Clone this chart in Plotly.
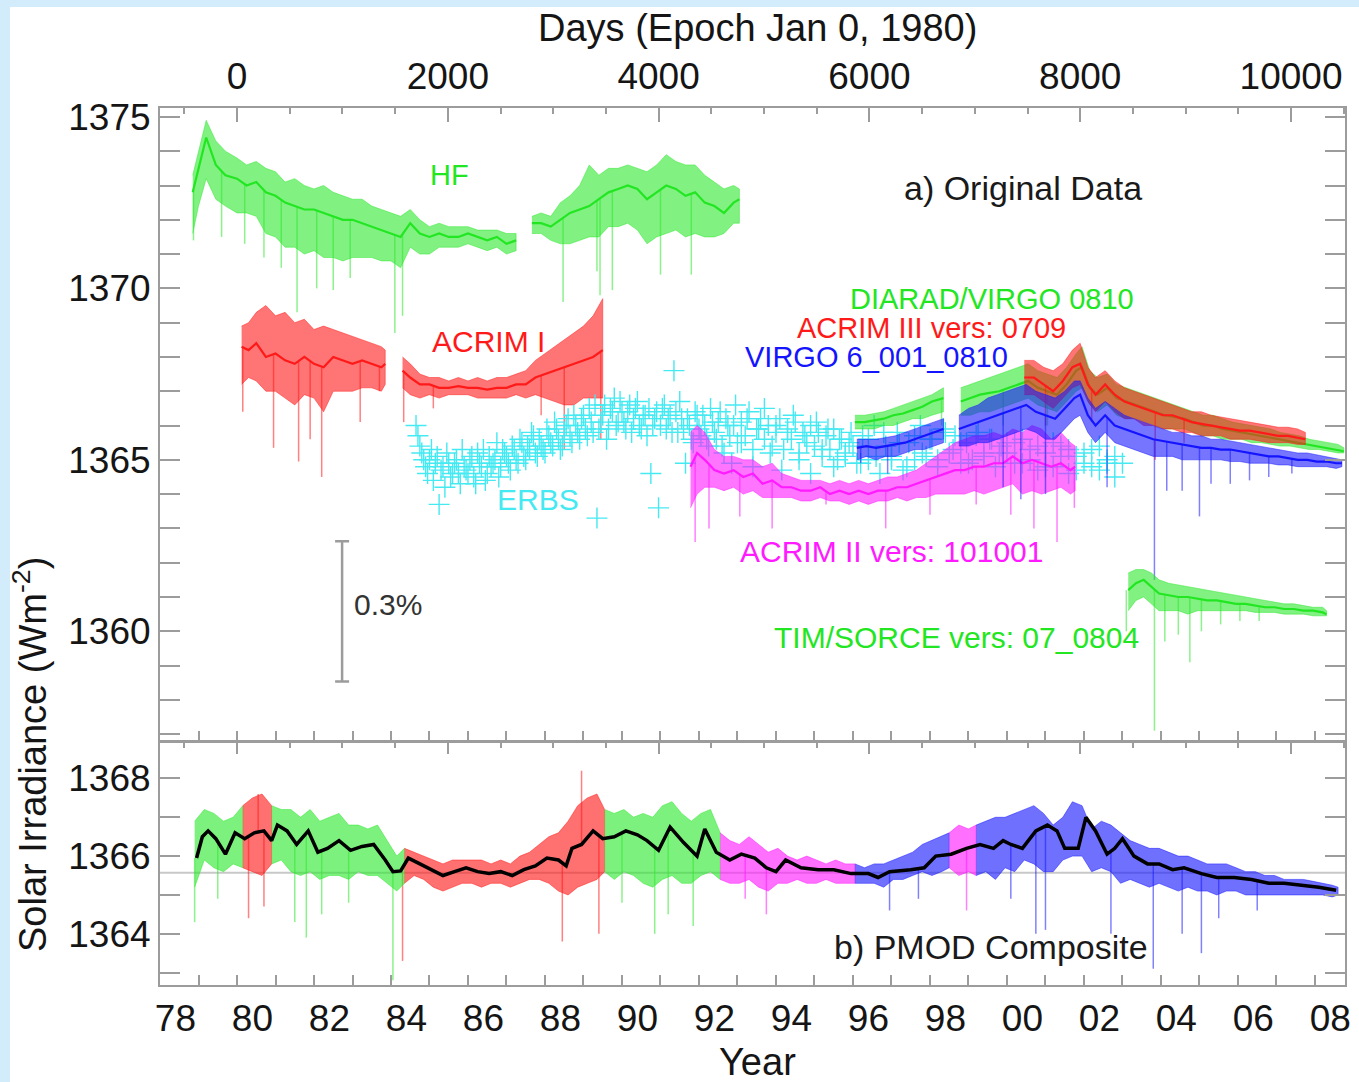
import numpy as np
import plotly.graph_objects as go

# ---------------- data ----------------
# HF (Nimbus 7), top panel.  None marks the data gap
hf_year = [1978.85, 1979.0, 1979.2, 1979.45, 1979.7, 1980.0, 1980.25, 1980.5, 1980.75, 1981.0, 1981.25, 1981.5,
           1981.75, 1982.0, 1982.25, 1982.5, 1982.75, 1983.0, 1983.25, 1983.5, 1983.75, 1984.0, 1984.25, 1984.5,
           1984.75, 1985.0, 1985.25, 1985.5, 1985.75, 1986.0, 1986.25, 1986.5, 1986.75, 1987.0, 1987.25, None,
           1987.66, 1987.9, 1988.15, 1988.4, 1988.65, 1988.9, 1989.15, 1989.4, 1989.65, 1989.9, 1990.15, 1990.4,
           1990.65, 1990.9, 1991.15, 1991.4, 1991.65, 1991.9, 1992.15, 1992.4, 1992.65, 1992.9, 1993.05]
hf_mid = [1372.8, 1373.5, 1374.4, 1373.6, 1373.3, 1373.2, 1373.0, 1373.1, 1372.8, 1372.7, 1372.5, 1372.4,
          1372.3, 1372.3, 1372.2, 1372.1, 1372.0, 1372.0, 1371.9, 1371.8, 1371.7, 1371.6, 1371.5, 1371.9,
          1371.6, 1371.5, 1371.6, 1371.5, 1371.5, 1371.6, 1371.5, 1371.4, 1371.5, 1371.3, 1371.4, None,
          1371.9, 1371.9, 1371.8, 1372.0, 1372.2, 1372.3, 1372.4, 1372.6, 1372.8, 1372.9, 1373.0, 1372.9,
          1372.6, 1372.8, 1373.0, 1372.9, 1372.7, 1372.8, 1372.5, 1372.4, 1372.2, 1372.5, 1372.6]
hf_lo = [1371.6, 1372.4, 1373.2, 1372.6, 1372.4, 1372.2, 1372.2, 1372.1, 1371.6, 1371.5, 1371.2, 1371.2,
         1371.0, 1371.1, 1370.9, 1370.9, 1370.8, 1370.9, 1370.9, 1370.9, 1370.8, 1370.8, 1370.6, 1371.2,
         1371.0, 1371.0, 1371.2, 1371.2, 1371.2, 1371.3, 1371.2, 1371.1, 1371.2, 1371.0, 1371.1, None,
         1371.6, 1371.6, 1371.4, 1371.3, 1371.3, 1371.4, 1371.5, 1371.5, 1371.8, 1371.8, 1371.9, 1371.7,
         1371.3, 1371.5, 1371.6, 1371.7, 1371.5, 1371.6, 1371.5, 1371.5, 1371.6, 1371.9, 1371.9]
hf_hi = [1373.3, 1374.0, 1374.9, 1374.3, 1374.0, 1373.8, 1373.6, 1373.7, 1373.5, 1373.4, 1373.1, 1373.2,
         1373.0, 1372.9, 1373.0, 1372.8, 1372.7, 1372.6, 1372.6, 1372.4, 1372.3, 1372.2, 1372.1, 1372.3,
         1372.0, 1371.8, 1371.9, 1371.8, 1371.8, 1371.8, 1371.7, 1371.7, 1371.7, 1371.6, 1371.6, None,
         1372.1, 1372.2, 1372.1, 1372.5, 1372.7, 1373.0, 1373.6, 1373.3, 1373.5, 1373.5, 1373.6, 1373.5,
         1373.4, 1373.6, 1373.9, 1373.7, 1373.6, 1373.6, 1373.3, 1373.1, 1372.9, 1373.0, 1372.9]
hf_dip_year = [1978.87, 1979.6, 1980.2, 1980.7, 1981.15, 1981.56, 1982.07, 1982.5, 1982.94, 1984.1, 1984.3,
               1988.47, 1989.35, 1989.43, 1989.75, 1991.0, 1991.8]
hf_dip_val = [1371.4, 1371.5, 1371.3, 1370.9, 1370.6, 1369.3, 1370.0, 1369.95, 1370.3, 1368.7, 1369.2,
              1369.6, 1370.5, 1369.8, 1369.95, 1370.4, 1370.4]

# ACRIM I
acrim1_year = [1980.12, 1980.3, 1980.5, 1980.75, 1981.0, 1981.25, 1981.5, 1981.75, 1982.0, 1982.25, 1982.5,
               1982.75, 1983.0, 1983.25, 1983.5, 1983.75, 1983.85, None,
               1984.3, 1984.5, 1984.75, 1985.0, 1985.25, 1985.5, 1985.75, 1986.0, 1986.25, 1986.5, 1986.75,
               1987.0, 1987.25, 1987.5, 1987.75, 1988.0, 1988.25, 1988.5, 1988.75, 1989.0, 1989.25, 1989.5]
acrim1_mid = [1368.3, 1368.2, 1368.4, 1368.0, 1368.1, 1367.9, 1367.8, 1368.0, 1367.8, 1367.7, 1368.0,
              1367.9, 1367.8, 1367.9, 1367.8, 1367.7, 1367.8, None,
              1367.6, 1367.4, 1367.2, 1367.2, 1367.1, 1367.1, 1367.15, 1367.1, 1367.1, 1367.05, 1367.1,
              1367.1, 1367.2, 1367.2, 1367.4, 1367.5, 1367.6, 1367.7, 1367.8, 1367.9, 1368.0, 1368.2]
acrim1_lo = [1367.2, 1367.4, 1367.3, 1367.0, 1367.0, 1366.8, 1366.6, 1366.9, 1366.8, 1366.4, 1367.0,
             1367.0, 1367.0, 1367.1, 1367.1, 1367.0, 1367.2, None,
             1367.1, 1366.9, 1366.8, 1366.9, 1366.8, 1366.9, 1366.9, 1366.9, 1366.8, 1366.8, 1366.8,
             1366.8, 1366.9, 1366.8, 1366.9, 1366.8, 1366.7, 1366.6, 1366.6, 1366.8, 1366.8, 1366.8]
acrim1_hi = [1368.9, 1369.0, 1369.3, 1369.5, 1369.2, 1369.3, 1369.0, 1369.1, 1368.8, 1368.9, 1368.8,
             1368.7, 1368.6, 1368.5, 1368.4, 1368.3, 1368.2, None,
             1368.0, 1367.8, 1367.5, 1367.4, 1367.4, 1367.3, 1367.4, 1367.3, 1367.4, 1367.3, 1367.4,
             1367.4, 1367.5, 1367.6, 1367.9, 1368.1, 1368.3, 1368.5, 1368.7, 1368.9, 1369.2, 1369.7]
acrim1_dip_year = [1980.15, 1980.95, 1981.6, 1981.9, 1982.2, 1983.2, 1983.7, 1984.33, 1985.1, 1987.9, 1988.5, 1989.45]
acrim1_dip_val = [1366.4, 1365.35, 1364.95, 1365.6, 1364.5, 1366.1, 1367.0, 1366.1, 1366.5, 1366.3, 1365.3, 1365.6]

# ERBS (crosses)
erbs_year = [1984.65, 1984.75, 1984.85, 1984.95, 1985.05, 1985.15, 1985.25, 1985.35, 1985.45, 1985.55,
             1985.65, 1985.75, 1985.85, 1985.95, 1986.05, 1986.15, 1986.25, 1986.35, 1986.45, 1986.55,
             1986.65, 1986.75, 1986.85, 1986.95, 1987.05, 1987.15, 1987.25, 1987.35, 1987.45, 1987.55,
             1987.65, 1987.75, 1987.85, 1987.95, 1988.05, 1988.15, 1988.25, 1988.35, 1988.45, 1988.55,
             1988.65, 1988.75, 1988.85, 1988.95, 1989.05, 1989.15, 1989.25, 1989.35, 1989.45, 1989.55,
             1989.65, 1989.75, 1989.85, 1989.95, 1990.05, 1990.15, 1990.25, 1990.35, 1990.45, 1990.55,
             1990.65, 1990.75, 1990.85, 1990.95, 1991.05, 1991.15, 1991.25, 1991.35, 1991.45, 1991.55,
             1991.65, 1991.75, 1991.85, 1991.95, 1992.05, 1992.15, 1992.25, 1992.35, 1992.45, 1992.55,
             1992.65, 1992.75, 1992.85, 1992.95, 1993.1, 1993.25, 1993.4, 1993.55, 1993.7, 1993.85,
             1994.0, 1994.15, 1994.3, 1994.45, 1994.6, 1994.75, 1994.9, 1995.05, 1995.2, 1995.35,
             1995.5, 1995.65, 1995.8, 1995.95, 1996.1, 1996.25, 1996.4, 1996.55, 1996.7, 1996.85,
             1997.0, 1997.15, 1997.3, 1997.45, 1997.6, 1997.75, 1997.9, 1998.05, 1998.2, 1998.35,
             1998.5, 1998.65, 1998.8, 1998.95, 1999.1, 1999.25, 1999.4, 1999.55, 1999.7, 1999.85,
             2000.0, 2000.2, 2000.4, 2000.6, 2000.8, 2001.0, 2001.2, 2001.4, 2001.6, 2001.8,
             2002.0, 2002.2, 2002.4, 2002.6, 2002.8, 2003.0,
             1984.7, 1984.8, 1984.9, 1985.0, 1985.1, 1985.2, 1985.3, 1985.4, 1985.5, 1985.6, 1985.7, 1985.8, 1985.9,
             1986.0, 1986.1, 1986.2, 1986.3, 1986.4, 1986.5, 1986.6, 1986.7, 1986.8, 1986.9,
             1987.0, 1987.1, 1987.2, 1987.3, 1987.4, 1987.5, 1987.6, 1987.7, 1987.8, 1987.9,
             1988.0, 1988.1, 1988.2, 1988.3, 1988.4, 1988.5, 1988.6, 1988.7, 1988.8, 1988.9,
             1989.0, 1989.1, 1989.2, 1989.3, 1989.4, 1989.5, 1989.6, 1989.7, 1989.8, 1989.9,
             1990.0, 1990.1, 1990.2, 1990.3, 1990.4, 1990.5, 1990.6, 1990.7, 1990.8, 1990.9,
             1991.0, 1991.1, 1991.2, 1991.3, 1991.4, 1991.5, 1991.6, 1991.7, 1991.8, 1991.9,
             1992.0, 1992.1, 1992.2, 1992.3, 1992.4, 1992.5, 1992.6, 1992.7, 1992.8, 1992.9,
             1993.0, 1993.1, 1993.2, 1993.3, 1993.4, 1993.5, 1993.6, 1993.7, 1993.8, 1993.9,
             1994.0, 1994.1, 1994.2, 1994.3, 1994.4, 1994.5, 1994.6, 1994.7, 1994.8, 1994.9,
             1995.0, 1995.1, 1995.2, 1995.3, 1995.4, 1995.5, 1995.6, 1995.7, 1995.8, 1995.9,
             1996.0, 1996.2, 1996.4, 1996.6, 1996.8, 1997.0, 1997.2, 1997.4, 1997.6, 1997.8,
             1998.0, 1998.2, 1998.4, 1998.6, 1998.8, 1999.0, 1999.2, 1999.4, 1999.6, 1999.8,
             2000.0, 2000.2, 2000.4, 2000.6, 2000.8, 2001.0, 2001.2, 2001.4, 2001.6, 2001.8,
             2002.0, 2002.2, 2002.4, 2002.6, 2002.8]
erbs_val = [1366.0, 1365.4, 1365.0, 1364.6, 1365.3, 1364.9, 1363.7, 1364.8, 1365.2, 1364.5,
            1364.9, 1364.6, 1365.3, 1364.7, 1365.0, 1364.5, 1365.2, 1364.8, 1364.4, 1365.1,
            1364.9, 1365.5, 1364.8, 1365.2, 1364.9, 1365.4, 1365.0, 1365.6, 1365.1, 1365.4,
            1365.8, 1365.2, 1365.6, 1365.3, 1365.9, 1365.5, 1366.1, 1365.6, 1365.4, 1366.0,
            1365.7, 1366.3, 1365.8, 1366.2, 1365.9, 1366.5, 1365.8, 1363.3, 1366.1, 1366.6,
            1365.9, 1366.4, 1366.0, 1366.7, 1366.1, 1366.4, 1365.8, 1366.5, 1366.0, 1366.3,
            1365.7, 1364.6, 1366.2, 1363.6, 1366.5, 1365.9, 1366.3, 1367.6, 1365.8, 1366.2,
            1364.9, 1366.0, 1365.5, 1366.3, 1365.7, 1366.0, 1365.4, 1366.1, 1365.6, 1366.4,
            1365.2, 1366.0, 1364.9, 1366.6, 1365.5, 1366.2, 1364.8, 1365.9, 1366.5, 1365.2,
            1366.0, 1364.7, 1365.8, 1366.3, 1365.0, 1365.7, 1364.6, 1366.1, 1365.3, 1365.9,
            1364.8, 1365.6, 1365.1, 1365.8, 1364.9, 1365.7, 1365.0, 1366.0, 1364.6, 1365.4,
            1365.1, 1365.8, 1364.7, 1365.5, 1365.0, 1366.0, 1365.1, 1365.6, 1364.8, 1365.9,
            1365.2, 1365.7, 1364.9, 1365.5, 1365.0, 1365.8, 1365.2, 1365.6, 1364.8, 1365.4,
            1365.2, 1365.5, 1364.9, 1365.3, 1364.7, 1365.2, 1364.8, 1365.4, 1364.6, 1365.1,
            1364.9, 1365.3, 1364.7, 1365.0, 1364.5, 1364.9,
            1365.7, 1365.2, 1364.8, 1365.0, 1364.4, 1365.1, 1364.7, 1364.2, 1364.9, 1364.6, 1365.0, 1364.3, 1364.8,
            1364.6, 1365.1, 1364.3, 1364.9, 1365.3, 1364.6, 1364.8, 1365.0, 1364.5, 1365.3,
            1365.1, 1364.7, 1365.3, 1364.9, 1365.5, 1365.0, 1365.3, 1365.7, 1365.1, 1365.4,
            1365.2, 1365.7, 1365.4, 1365.9, 1365.3, 1365.8, 1366.2, 1365.5, 1366.0, 1365.6,
            1366.3, 1365.7, 1366.1, 1366.6, 1365.9, 1366.3, 1365.6, 1366.5, 1366.8, 1366.1,
            1366.4, 1365.9, 1366.6, 1366.2, 1366.7, 1365.9, 1366.3, 1366.5, 1366.0, 1366.4,
            1366.0, 1366.6, 1366.2, 1365.8, 1366.4, 1366.7, 1365.9, 1366.2, 1365.6, 1366.4,
            1365.9, 1366.3, 1365.6, 1366.5, 1365.8, 1366.1, 1365.4, 1366.2, 1365.7, 1366.0,
            1365.5, 1366.1, 1365.7, 1366.4, 1365.3, 1365.9, 1366.2, 1365.6, 1366.0, 1365.4,
            1365.8, 1366.2, 1365.3, 1365.9, 1365.6, 1366.1, 1365.2, 1365.8, 1365.5, 1366.0,
            1365.4, 1365.8, 1365.1, 1365.7, 1365.3, 1365.9, 1365.0, 1365.6, 1365.2, 1365.5,
            1365.4, 1364.9, 1365.6, 1365.1, 1365.8, 1365.0, 1365.5, 1364.8, 1365.7, 1365.2,
            1365.6, 1365.0, 1365.8, 1365.3, 1365.5, 1364.9, 1365.7, 1365.1, 1365.6, 1365.2,
            1365.5, 1364.9, 1365.6, 1365.0, 1365.4, 1364.8, 1365.5, 1365.1, 1365.3, 1364.7,
            1365.2, 1364.8, 1365.4, 1364.9, 1365.1]

# ACRIM II
acrim2_year = [1991.78, 1991.95, 1992.15, 1992.4, 1992.65, 1992.9, 1993.15, 1993.4, 1993.65, 1993.9, 1994.15,
               1994.4, 1994.65, 1994.9, 1995.15, 1995.4, 1995.65, 1995.9, 1996.15, 1996.4, 1996.65, 1996.9,
               1997.15, 1997.4, 1997.65, 1997.9, 1998.15, 1998.4, 1998.65, 1998.9, 1999.15, 1999.4, 1999.65,
               1999.9, 2000.15, 2000.4, 2000.65, 2000.9, 2001.15, 2001.4, 2001.65, 2001.77]
acrim2_mid = [1364.8, 1365.2, 1365.0, 1364.7, 1364.6, 1364.7, 1364.5, 1364.6, 1364.3, 1364.4, 1364.2,
              1364.2, 1364.1, 1364.1, 1364.2, 1364.0, 1364.1, 1364.0, 1364.1, 1364.0, 1364.1, 1364.1,
              1364.2, 1364.2, 1364.3, 1364.4, 1364.5, 1364.6, 1364.7, 1364.7, 1364.8, 1364.8, 1364.9,
              1364.9, 1365.1, 1364.9, 1365.0, 1364.9, 1364.8, 1364.9, 1364.7, 1364.8]
acrim2_lo = [1363.6, 1364.0, 1364.2, 1364.2, 1364.1, 1364.2, 1364.0, 1364.1, 1363.9, 1363.9, 1363.9,
             1363.9, 1363.8, 1363.8, 1363.9, 1363.8, 1363.8, 1363.7, 1363.8, 1363.7, 1363.8, 1363.8,
             1363.9, 1363.8, 1363.9, 1363.9, 1364.0, 1364.0, 1364.0, 1364.0, 1364.1, 1364.0, 1364.1,
             1364.2, 1364.3, 1364.0, 1364.1, 1364.0, 1364.1, 1364.2, 1364.0, 1364.1]
acrim2_hi = [1365.8, 1366.0, 1365.8, 1365.3, 1365.1, 1365.1, 1365.0, 1365.0, 1364.8, 1364.9, 1364.6,
             1364.5, 1364.4, 1364.4, 1364.4, 1364.3, 1364.4, 1364.3, 1364.4, 1364.3, 1364.4, 1364.5,
             1364.5, 1364.6, 1364.7, 1364.9, 1365.1, 1365.3, 1365.5, 1365.6, 1365.7, 1365.7, 1365.8,
             1365.7, 1365.9, 1365.8, 1366.0, 1365.9, 1365.6, 1365.8, 1365.5, 1365.4]
acrim2_dip_year = [1991.9, 1992.26, 1993.06, 1993.9, 1995.3, 1996.85, 1998.0, 1999.2, 2000.1, 2000.7, 2001.3, 2001.75]
acrim2_dip_val = [1362.6, 1363.0, 1363.35, 1363.0, 1363.7, 1363.0, 1363.4, 1363.7, 1363.4, 1363.0, 1362.6, 1363.6]

# DIARAD/VIRGO
diarad_year = [1996.05, 1996.3, 1996.55, 1996.8, 1997.05, 1997.3, 1997.55, 1997.8, 1998.05, 1998.35, None,
               1998.8, 1999.05, 1999.3, 1999.55, 1999.8, 2000.05, 2000.3, 2000.55, 2000.8, 2001.05, 2001.3,
               2001.55, 2001.8, 2001.95, 2002.15, 2002.35, 2002.6, 2002.85, 2003.1, 2003.35, 2003.6, 2003.85,
               2004.1, 2004.35, 2004.6, 2004.85, 2005.1, 2005.35, 2005.6, 2005.85, 2006.1, 2006.35, 2006.6,
               2006.85, 2007.1, 2007.35, 2007.6, 2007.85, 2008.1, 2008.35, 2008.6, 2008.75]
diarad_mid = [1366.1, 1366.1, 1366.15, 1366.2, 1366.3, 1366.35, 1366.45, 1366.55, 1366.7, 1366.8, None,
              1366.7, 1366.8, 1366.9, 1366.95, 1367.0, 1367.1, 1367.2, 1367.3, 1367.1, 1367.0, 1366.9,
              1367.2, 1367.6, 1367.7, 1367.1, 1366.9, 1367.1, 1366.8, 1366.7, 1366.6, 1366.5, 1366.4,
              1366.3, 1366.25, 1366.2, 1366.1, 1366.0, 1366.0, 1365.9, 1365.85, 1365.8, 1365.75, 1365.7,
              1365.65, 1365.6, 1365.55, 1365.5, 1365.45, 1365.4, 1365.35, 1365.3, 1365.25]
diarad_lo = [1365.9, 1365.9, 1365.9, 1366.0, 1366.0, 1366.1, 1366.2, 1366.2, 1366.3, 1366.4, None,
             1366.3, 1366.3, 1366.4, 1366.4, 1366.5, 1366.6, 1366.7, 1366.8, 1366.6, 1366.5, 1366.4,
             1366.7, 1367.0, 1367.1, 1366.6, 1366.4, 1366.6, 1366.3, 1366.2, 1366.2, 1366.1, 1366.0,
             1365.9, 1365.9, 1365.9, 1365.8, 1365.7, 1365.7, 1365.6, 1365.6, 1365.6, 1365.5, 1365.5,
             1365.45, 1365.4, 1365.4, 1365.35, 1365.3, 1365.3, 1365.25, 1365.2, 1365.2]
diarad_hi = [1366.3, 1366.3, 1366.35, 1366.4, 1366.5, 1366.6, 1366.7, 1366.8, 1366.9, 1367.1, None,
             1367.1, 1367.2, 1367.3, 1367.4, 1367.5, 1367.6, 1367.7, 1367.8, 1367.6, 1367.5, 1367.4,
             1367.7, 1368.1, 1368.3, 1367.6, 1367.4, 1367.5, 1367.2, 1367.1, 1367.0, 1366.9, 1366.8,
             1366.7, 1366.6, 1366.5, 1366.4, 1366.3, 1366.3, 1366.2, 1366.1, 1366.05, 1366.0, 1365.95,
             1365.9, 1365.8, 1365.75, 1365.7, 1365.6, 1365.55, 1365.5, 1365.45, 1365.35]
diarad_dip_year = [1998.3, 1999.9, 2001.05]
diarad_dip_val = [1366.0, 1366.0, 1366.0]

# ACRIM III
acrim3_year = [2000.45, 2000.7, 2000.95, 2001.2, 2001.45, 2001.7, 2001.9, 2002.1, 2002.3, 2002.55, 2002.8,
               2003.05, 2003.3, 2003.55, 2003.8, 2004.05, 2004.3, 2004.55, 2004.8, 2005.05, 2005.3, 2005.55,
               2005.8, 2006.05, 2006.3, 2006.55, 2006.8, 2007.05, 2007.3, 2007.55, 2007.75]
acrim3_mid = [1367.4, 1367.4, 1367.2, 1367.0, 1367.3, 1367.7, 1367.8, 1367.2, 1366.9, 1367.2, 1366.9,
              1366.7, 1366.6, 1366.5, 1366.4, 1366.3, 1366.3, 1366.2, 1366.1, 1366.05, 1366.0, 1365.95,
              1365.9, 1365.85, 1365.85, 1365.8, 1365.75, 1365.7, 1365.7, 1365.65, 1365.6]
acrim3_lo = [1366.9, 1366.9, 1366.7, 1366.5, 1366.8, 1367.1, 1367.2, 1366.7, 1366.4, 1366.7, 1366.4,
             1366.2, 1366.2, 1366.0, 1366.0, 1365.9, 1365.9, 1365.8, 1365.8, 1365.7, 1365.7, 1365.7,
             1365.6, 1365.6, 1365.6, 1365.55, 1365.5, 1365.5, 1365.5, 1365.45, 1365.45]
acrim3_hi = [1367.9, 1367.9, 1367.7, 1367.6, 1367.8, 1368.2, 1368.4, 1367.7, 1367.4, 1367.6, 1367.3,
             1367.1, 1367.0, 1366.9, 1366.8, 1366.7, 1366.6, 1366.5, 1366.4, 1366.4, 1366.3, 1366.25,
             1366.2, 1366.15, 1366.1, 1366.05, 1366.0, 1365.95, 1365.95, 1365.9, 1365.8]
acrim3_dip_year = [2001.0, 2002.2, 2003.85, 2004.6]
acrim3_dip_val = [1366.0, 1366.1, 1365.0, 1365.5]

# VIRGO 6_001_0810
virgo_year = [1996.1, 1996.35, 1996.6, 1996.85, 1997.1, 1997.35, 1997.6, 1997.85, 1998.1, 1998.35, None,
              1998.75, 1999.0, 1999.25, 1999.5, 1999.75, 2000.0, 2000.25, 2000.5, 2000.75, 2001.0, 2001.25,
              2001.5, 2001.75, 2001.9, 2002.1, 2002.3, 2002.55, 2002.8, 2003.05, 2003.3, 2003.55, 2003.8,
              2004.05, 2004.3, 2004.55, 2004.8, 2005.05, 2005.3, 2005.55, 2005.8, 2006.05, 2006.3, 2006.55,
              2006.8, 2007.05, 2007.3, 2007.55, 2007.8, 2008.05, 2008.3, 2008.55, 2008.7]
virgo_mid = [1365.35, 1365.4, 1365.35, 1365.4, 1365.45, 1365.5, 1365.6, 1365.7, 1365.8, 1365.9, None,
             1365.9, 1366.0, 1366.1, 1366.2, 1366.3, 1366.4, 1366.5, 1366.6, 1366.4, 1366.3, 1366.2,
             1366.5, 1366.8, 1366.9, 1366.3, 1366.0, 1366.3, 1366.0, 1365.9, 1365.8, 1365.7, 1365.6,
             1365.55, 1365.5, 1365.45, 1365.4, 1365.35, 1365.35, 1365.3, 1365.3, 1365.25, 1365.2, 1365.15,
             1365.1, 1365.1, 1365.05, 1365.0, 1365.0, 1364.95, 1364.95, 1364.9, 1364.9]
virgo_lo = [1365.0, 1365.1, 1365.0, 1365.1, 1365.1, 1365.2, 1365.3, 1365.3, 1365.4, 1365.5, None,
            1365.4, 1365.4, 1365.5, 1365.5, 1365.6, 1365.7, 1365.8, 1365.9, 1365.8, 1365.6, 1365.6,
            1365.9, 1366.2, 1366.3, 1365.8, 1365.5, 1365.8, 1365.5, 1365.4, 1365.3, 1365.2, 1365.1,
            1365.1, 1365.1, 1365.0, 1365.0, 1365.0, 1365.0, 1365.0, 1364.95, 1364.95, 1364.9, 1364.9,
            1364.9, 1364.85, 1364.85, 1364.8, 1364.8, 1364.8, 1364.8, 1364.75, 1364.8]
virgo_hi = [1365.6, 1365.6, 1365.6, 1365.65, 1365.7, 1365.8, 1365.9, 1366.0, 1366.1, 1366.2, None,
            1366.3, 1366.5, 1366.6, 1366.8, 1366.9, 1367.0, 1367.1, 1367.2, 1367.0, 1366.9, 1366.8,
            1367.0, 1367.3, 1367.3, 1366.8, 1366.5, 1366.7, 1366.5, 1366.3, 1366.2, 1366.1, 1366.0,
            1365.9, 1365.8, 1365.8, 1365.7, 1365.7, 1365.6, 1365.6, 1365.55, 1365.5, 1365.45, 1365.4,
            1365.35, 1365.3, 1365.25, 1365.2, 1365.2, 1365.15, 1365.1, 1365.05, 1365.0]
virgo_dip_year = [1996.2, 1996.9, 1999.9, 2000.36, 2001.0, 2002.6, 2003.83, 2004.15, 2004.55, 2005.0,
                  2005.3, 2005.8, 2006.3, 2006.8, 2007.4]
virgo_dip_val = [1364.9, 1364.6, 1364.2, 1363.85, 1364.0, 1364.2, 1361.5, 1364.1, 1364.1, 1363.35,
                 1364.3, 1364.3, 1364.4, 1364.5, 1364.6]

# TIM/SORCE
tim_year = [2003.15, 2003.35, 2003.55, 2003.75, 2003.95, 2004.2, 2004.45, 2004.7, 2004.95, 2005.2, 2005.45,
            2005.7, 2005.95, 2006.2, 2006.45, 2006.7, 2006.95, 2007.2, 2007.45, 2007.7, 2007.95, 2008.2, 2008.3]
tim_mid = [1361.2, 1361.4, 1361.5, 1361.3, 1361.1, 1361.05, 1361.0, 1361.0, 1360.95, 1360.9, 1360.9,
           1360.85, 1360.8, 1360.8, 1360.75, 1360.7, 1360.7, 1360.65, 1360.65, 1360.6, 1360.6, 1360.55, 1360.5]
tim_lo = [1360.6, 1360.9, 1361.0, 1360.8, 1360.6, 1360.6, 1360.6, 1360.5, 1360.6, 1360.6, 1360.6,
          1360.6, 1360.6, 1360.6, 1360.55, 1360.55, 1360.55, 1360.5, 1360.5, 1360.5, 1360.45, 1360.45, 1360.45]
tim_hi = [1361.7, 1361.8, 1361.8, 1361.7, 1361.5, 1361.4, 1361.35, 1361.3, 1361.25, 1361.2, 1361.15,
          1361.1, 1361.05, 1361.0, 1360.95, 1360.9, 1360.85, 1360.8, 1360.8, 1360.75, 1360.7, 1360.7, 1360.6]
tim_dip_year = [2003.1, 2003.83, 2004.1, 2004.45, 2004.75, 2005.05, 2005.55, 2006.05, 2006.55]
tim_dip_val = [1360.0, 1357.1, 1359.7, 1359.9, 1359.1, 1360.0, 1360.2, 1360.3, 1360.3]

# PMOD composite daily envelope, coloured by contributing instrument
comp_year = [1978.9, 1979.15, 1979.4, 1979.65, 1979.9, 1980.15, 1980.4, 1980.65, 1980.9, 1981.15, 1981.4,
             1981.65, 1981.9, 1982.15, 1982.4, 1982.65, 1982.9, 1983.15, 1983.4, 1983.65, 1983.9, 1984.15,
             1984.35, 1984.6, 1984.85, 1985.1, 1985.35, 1985.6, 1985.85, 1986.1, 1986.35, 1986.6, 1986.85,
             1987.1, 1987.35, 1987.6, 1987.85, 1988.1, 1988.35, 1988.6, 1988.85, 1989.1, 1989.35, 1989.55,
             1989.8, 1990.05, 1990.3, 1990.55, 1990.8, 1991.05, 1991.3, 1991.55, 1991.8, 1992.05, 1992.3,
             1992.55, 1992.8, 1993.05, 1993.3, 1993.55, 1993.8, 1994.05, 1994.3, 1994.55, 1994.8, 1995.05,
             1995.3, 1995.55, 1995.8, 1996.05, 1996.3, 1996.55, 1996.8, 1997.05, 1997.3, 1997.55, 1997.8,
             1998.05, 1998.3, 1998.5, 1998.75, 1999.0, 1999.2, 1999.45, 1999.7, 1999.95, 2000.2, 2000.45,
             2000.7, 2000.95, 2001.2, 2001.45, 2001.7, 2001.95, 2002.2, 2002.45, 2002.7, 2002.95, 2003.2,
             2003.45, 2003.7, 2003.95, 2004.2, 2004.45, 2004.7, 2004.95, 2005.2, 2005.45, 2005.7, 2005.95,
             2006.2, 2006.45, 2006.7, 2006.95, 2007.2, 2007.45, 2007.7, 2007.95, 2008.2, 2008.45, 2008.6]
comp_lo = [1365.2, 1365.9, 1365.7, 1365.6, 1365.8, 1365.7, 1365.6, 1365.5, 1365.8, 1365.9, 1365.6,
           1365.5, 1365.6, 1365.4, 1365.5, 1365.5, 1365.4, 1365.6, 1365.5, 1365.5, 1365.3, 1365.1,
           1365.3, 1365.5, 1365.4, 1365.2, 1365.1, 1365.2, 1365.3, 1365.3, 1365.2, 1365.3, 1365.3,
           1365.2, 1365.3, 1365.4, 1365.4, 1365.3, 1365.1, 1365.0, 1365.2, 1365.3, 1365.4, 1365.6,
           1365.4, 1365.6, 1365.5, 1365.3, 1365.2, 1365.4, 1365.5, 1365.3, 1365.3, 1365.5, 1365.6,
           1365.4, 1365.3, 1365.3, 1365.4, 1365.2, 1365.1, 1365.3, 1365.3, 1365.4, 1365.3, 1365.3,
           1365.4, 1365.3, 1365.3, 1365.3, 1365.3, 1365.3, 1365.2, 1365.4, 1365.4, 1365.5, 1365.6,
           1365.5, 1365.6, 1365.7, 1365.5, 1365.6, 1365.5, 1365.6, 1365.4, 1365.7, 1365.6, 1365.9,
           1365.8, 1365.6, 1365.6, 1365.9, 1366.0, 1366.0, 1365.6, 1365.7, 1365.6, 1365.3, 1365.4,
           1365.3, 1365.2, 1365.3, 1365.2, 1365.1, 1365.2, 1365.1, 1365.1, 1365.0, 1365.1, 1365.1,
           1365.0, 1365.0, 1365.0, 1365.0, 1365.0, 1365.0, 1365.0, 1365.0, 1365.0, 1364.95, 1365.0]
comp_hi = [1366.9, 1367.2, 1367.1, 1366.9, 1367.0, 1367.3, 1367.5, 1367.6, 1367.3, 1367.2, 1367.2,
           1367.0, 1367.2, 1366.9, 1367.0, 1367.1, 1366.8, 1366.8, 1366.7, 1366.8, 1366.4, 1366.0,
           1366.2, 1366.1, 1366.0, 1365.9, 1365.8, 1365.9, 1365.9, 1365.9, 1365.9, 1365.8, 1365.9,
           1365.8, 1366.0, 1366.1, 1366.3, 1366.5, 1366.6, 1366.9, 1367.3, 1367.5, 1367.6, 1367.2,
           1367.1, 1367.2, 1367.0, 1367.1, 1367.0, 1367.3, 1367.4, 1367.1, 1366.9, 1367.1, 1367.2,
           1366.6, 1366.4, 1366.3, 1366.5, 1366.3, 1366.1, 1366.2, 1366.0, 1365.9, 1366.0, 1365.9,
           1365.8, 1365.9, 1365.8, 1365.8, 1365.7, 1365.8, 1365.8, 1365.9, 1366.0, 1366.1, 1366.3,
           1366.4, 1366.5, 1366.6, 1366.8, 1366.7, 1366.8, 1366.9, 1367.0, 1367.0, 1367.1, 1367.2,
           1367.3, 1367.1, 1366.8, 1367.0, 1367.4, 1367.3, 1366.7, 1366.9, 1366.8, 1366.6, 1366.4,
           1366.3, 1366.2, 1366.2, 1366.1, 1366.0, 1366.0, 1365.9, 1365.8, 1365.8, 1365.8, 1365.7,
           1365.6, 1365.6, 1365.5, 1365.5, 1365.4, 1365.4, 1365.4, 1365.35, 1365.3, 1365.25, 1365.2]
comp_src = (['HF'] * 5 + ['ACRIM1'] * 3 + ['HF'] * 14 + ['ACRIM1'] * 21 + ['HF'] * 12 + ['ACRIM2'] * 14
            + ['VIRGO'] * 10 + ['ACRIM2'] * 3 + ['VIRGO'] * 39)
comp_dip_year = [1978.9, 1979.5, 1980.3, 1980.7, 1981.5, 1981.8, 1982.2, 1982.9, 1984.05, 1984.3, 1988.45,
                 1989.4, 1990.0, 1990.85, 1991.2, 1991.85, 1993.2, 1993.75, 1996.95, 1997.7, 1998.95, 2000.1,
                 2000.75, 2001.0, 2002.7, 2003.8, 2004.55, 2005.05, 2005.5, 2006.5, 1988.95, 1980.55]
comp_dip_val = [1364.3, 1364.9, 1364.4, 1364.7, 1364.3, 1363.9, 1364.5, 1364.8, 1362.8, 1363.3, 1363.8,
                1364.0, 1364.8, 1364.0, 1364.5, 1364.2, 1364.9, 1364.5, 1364.6, 1364.9, 1364.6, 1364.9,
                1364.0, 1364.1, 1364.0, 1363.1, 1364.0, 1363.5, 1364.4, 1364.6, 1368.2, 1367.6]
comp_dip_src = ['HF', 'HF', 'ACRIM1', 'ACRIM1', 'HF', 'HF', 'HF', 'HF', 'HF', 'ACRIM1', 'ACRIM1',
                'ACRIM1', 'HF', 'HF', 'HF', 'HF', 'ACRIM2', 'ACRIM2', 'VIRGO', 'VIRGO', 'ACRIM2', 'VIRGO',
                'VIRGO', 'VIRGO', 'VIRGO', 'VIRGO', 'VIRGO', 'VIRGO', 'VIRGO', 'VIRGO', 'ACRIM1', 'ACRIM1']

# PMOD composite (smoothed, black)
pmod_year = [1978.95, 1979.1, 1979.25, 1979.45, 1979.7, 1979.95, 1980.2, 1980.45, 1980.7, 1980.9, 1981.05,
             1981.3, 1981.55, 1981.85, 1982.1, 1982.35, 1982.65, 1982.95, 1983.25, 1983.55, 1983.85, 1984.05,
             1984.25, 1984.45, 1984.75, 1985.05, 1985.35, 1985.65, 1985.95, 1986.25, 1986.55, 1986.85, 1987.15,
             1987.45, 1987.75, 1988.05, 1988.35, 1988.55, 1988.7, 1988.95, 1989.25, 1989.5, 1989.8, 1990.1,
             1990.4, 1990.65, 1990.95, 1991.25, 1991.6, 1991.95, 1992.15, 1992.45, 1992.8, 1993.1, 1993.45,
             1993.75, 1994.0, 1994.25, 1994.65, 1995.1, 1995.5, 1995.95, 1996.4, 1996.65, 1996.95, 1997.5,
             1997.85, 1998.15, 1998.55, 1998.95, 1999.3, 1999.65, 1999.9, 2000.1, 2000.4, 2000.75, 2001.05,
             2001.3, 2001.5, 2001.85, 2002.05, 2002.3, 2002.6, 2002.8, 2003.0, 2003.3, 2003.65, 2003.95,
             2004.3, 2004.6, 2005.05, 2005.45, 2005.9, 2006.35, 2006.8, 2007.2, 2007.65, 2008.1, 2008.55]
pmod_val = [1365.95, 1366.5, 1366.65, 1366.45, 1366.05, 1366.6, 1366.45, 1366.6, 1366.65, 1366.4, 1366.8,
            1366.65, 1366.3, 1366.65, 1366.1, 1366.2, 1366.4, 1366.15, 1366.25, 1366.3, 1365.9, 1365.6,
            1365.62, 1365.95, 1365.8, 1365.65, 1365.5, 1365.6, 1365.7, 1365.6, 1365.55, 1365.6, 1365.5,
            1365.65, 1365.75, 1365.95, 1365.9, 1365.75, 1366.2, 1366.3, 1366.65, 1366.45, 1366.5, 1366.65,
            1366.55, 1366.4, 1366.15, 1366.75, 1366.35, 1366.0, 1366.7, 1366.1, 1365.9, 1366.05, 1365.95,
            1365.7, 1365.6, 1365.9, 1365.7, 1365.65, 1365.65, 1365.55, 1365.55, 1365.45, 1365.6, 1365.65,
            1365.7, 1366.0, 1366.05, 1366.2, 1366.3, 1366.2, 1366.4, 1366.3, 1366.2, 1366.65, 1366.8,
            1366.65, 1366.2, 1366.2, 1367.0, 1366.65, 1366.05, 1366.2, 1366.45, 1366.0, 1365.8, 1365.8,
            1365.65, 1365.7, 1365.55, 1365.45, 1365.45, 1365.4, 1365.3, 1365.3, 1365.25, 1365.2, 1365.12]
pmod_mean = 1365.57

# scale bar: 0.3 % of the solar constant
scale_year = 1982.73
scale_center = 1360.58
scale_pct = 0.3
solar_const = 1365.0

# axis labels
year_labels = ['78', '80', '82', '84', '86', '88', '90', '92', '94', '96', '98', '00', '02', '04', '06', '08']
year_label_pos = [1978, 1980, 1982, 1984, 1986, 1988, 1990, 1992, 1994, 1996, 1998, 2000, 2002, 2004, 2006, 2008]
day_ticks = [0, 2000, 4000, 6000, 8000, 10000]
day_labels = ['0', '2000', '4000', '6000', '8000', '10000']

# ---------------- style ----------------
GREEN = '#22e622'
RED = '#ff1a1a'
BLUE = '#1414ff'
MAG = '#ff1aff'
CYAN = '#45e9f2'
rgb = {GREEN: '45,232,45', RED: '255,25,25', BLUE: '25,25,255', MAG: '255,25,255'}
AXC = '#9c9c9c'
TXT = '#151515'
FONT = 'Liberation Sans, Arial, sans-serif'
src_col = {'HF': GREEN, 'ACRIM1': RED, 'ACRIM2': MAG, 'VIRGO': BLUE}

X0, X1 = 1978.0, 2008.78


def rgba(c, a):
    return 'rgba(%s,%s)' % (rgb[c], a)


def runs(*cols):
    # split parallel lists at None entries
    out, cur = [], [[] for _ in cols]
    for vals in zip(*cols):
        if vals[0] is None:
            if cur[0]:
                out.append(cur)
            cur = [[] for _ in cols]
            continue
        for i, v in enumerate(vals):
            cur[i].append(v)
    if cur[0]:
        out.append(cur)
    return out


def add_band(fig, yr, lo, hi, color, xa, ya, alpha=0.6):
    fig.add_trace(go.Scatter(x=yr + yr[::-1], y=hi + lo[::-1], fill='toself', fillcolor=rgba(color, alpha),
                             mode='lines', line=dict(width=0.8, color=rgba(color, alpha)),
                             hoverinfo='skip', xaxis=xa, yaxis=ya))


def add_spikes(fig, years, base, vals, color, xa, ya):
    dx, dy = [], []
    for t, b, v in zip(years, base, vals):
        dx += [t, t, None]
        dy += [b, v, None]
    fig.add_trace(go.Scatter(x=dx, y=dy, mode='lines', line=dict(color=rgba(color, 0.55), width=1.5),
                             hoverinfo='skip', xaxis=xa, yaxis=ya))


def add_series(fig, year, mid, lo, hi, dip_year, dip_val, color, xa='x2', ya='y2'):
    segs = runs(year, mid, lo, hi)
    all_y = [t for s in segs for t in s[0]]
    all_m = [m for s in segs for m in s[1]]
    add_spikes(fig, dip_year, np.interp(dip_year, all_y, all_m), dip_val, color, xa, ya)
    for yr, m, l, h in segs:
        add_band(fig, yr, l, h, color, xa, ya)
        fig.add_trace(go.Scatter(x=yr, y=m, mode='lines', line=dict(color=color, width=2.2),
                                 hoverinfo='skip', xaxis=xa, yaxis=ya))


fig = go.Figure()

# ---- top panel ----
add_series(fig, hf_year, hf_mid, hf_lo, hf_hi, hf_dip_year, hf_dip_val, GREEN)
add_series(fig, acrim1_year, acrim1_mid, acrim1_lo, acrim1_hi, acrim1_dip_year, acrim1_dip_val, RED)
fig.add_trace(go.Scatter(x=erbs_year, y=erbs_val, mode='markers', xaxis='x2', yaxis='y2', hoverinfo='skip',
                         marker=dict(symbol='cross-thin', size=15, line=dict(width=1.4, color=CYAN))))
add_series(fig, acrim2_year, acrim2_mid, acrim2_lo, acrim2_hi, acrim2_dip_year, acrim2_dip_val, MAG)
add_series(fig, diarad_year, diarad_mid, diarad_lo, diarad_hi, diarad_dip_year, diarad_dip_val, GREEN)
add_series(fig, acrim3_year, acrim3_mid, acrim3_lo, acrim3_hi, acrim3_dip_year, acrim3_dip_val, RED)
add_series(fig, virgo_year, virgo_mid, virgo_lo, virgo_hi, virgo_dip_year, virgo_dip_val, BLUE)
add_series(fig, tim_year, tim_mid, tim_lo, tim_hi, tim_dip_year, tim_dip_val, GREEN)

# scale bar
half = solar_const * scale_pct / 100 / 2
fig.add_trace(go.Scatter(x=[scale_year], y=[scale_center], mode='markers', xaxis='x2', yaxis='y2',
                         marker=dict(size=1, color=AXC), hoverinfo='skip',
                         error_y=dict(type='data', array=[half], color=AXC, thickness=2.5, width=7)))

# ---- bottom panel ----
fig.add_trace(go.Scatter(x=[X0, X1], y=[pmod_mean, pmod_mean], mode='lines',
                         line=dict(color='#c8c8c8', width=2), hoverinfo='skip', xaxis='x', yaxis='y'))
dmid = np.interp(comp_dip_year, pmod_year, pmod_val)
for s, c in src_col.items():
    sel = [k for k, src in enumerate(comp_dip_src) if src == s]
    add_spikes(fig, [comp_dip_year[k] for k in sel], [dmid[k] for k in sel], [comp_dip_val[k] for k in sel],
               c, 'x', 'y')
# contiguous runs of each source
n = min(len(comp_year), len(comp_src))
i = 0
while i < n:
    j = i
    while j + 1 < n and comp_src[j + 1] == comp_src[i]:
        j += 1
    k = min(j + 1, n - 1)
    add_band(fig, comp_year[i:k + 1], comp_lo[i:k + 1], comp_hi[i:k + 1], src_col[comp_src[i]], 'x', 'y', 0.62)
    i = j + 1
fig.add_trace(go.Scatter(x=pmod_year, y=pmod_val, mode='lines', line=dict(color='black', width=3.5),
                         hoverinfo='skip', xaxis='x', yaxis='y'))

# ---------------- layout ----------------
W, H = 1359, 1082
ml, mr, mt, mb = 160, 14, 108, 97
pw, ph = W - ml - mr, H - mt - mb
top_dom = [(985 - 741) / ph, 1.0]
bot_dom = [0.0, (985 - 742) / ph]
tickfont = dict(family=FONT, size=37, color=TXT)
day0 = (X0 - 1980) * 365.25
day1 = (X1 - 1980) * 365.25
yr_ticks = list(range(1979, 2009))

# invisible carriers so the overlaid label axes get drawn
fig.add_trace(go.Scatter(x=[X0, X1], y=[1365, 1365], xaxis='x3', yaxis='y', mode='markers',
                         marker=dict(opacity=0), hoverinfo='skip'))
fig.add_trace(go.Scatter(x=[day0, day1], y=[1365, 1365], xaxis='x4', yaxis='y2', mode='markers',
                         marker=dict(opacity=0), hoverinfo='skip'))
fig.add_trace(go.Scatter(x=[day0, day1], y=[1365, 1365], xaxis='x5', yaxis='y', mode='markers',
                         marker=dict(opacity=0), hoverinfo='skip'))

common_x = dict(range=[X0, X1], showgrid=False, zeroline=False, showline=True, linecolor=AXC, linewidth=2,
                ticks='inside', ticklen=10, tickwidth=1.5, tickcolor=AXC, tickvals=yr_ticks, showticklabels=False,
                automargin=False)

fig.update_layout(
    width=W, height=H, margin=dict(l=ml, r=mr, t=mt, b=mb, autoexpand=False),
    paper_bgcolor='#d3ecfb', plot_bgcolor='white', showlegend=False,
    font=dict(family=FONT),
    xaxis=dict(**common_x, anchor='y', domain=[0, 1]),
    xaxis2=dict(**common_x, anchor='y2', matches='x', domain=[0, 1]),
    xaxis3=dict(overlaying='x', anchor='y', side='bottom', range=[X0, X1], showgrid=False, zeroline=False,
                showline=False, tickvals=[p + 0.4 for p in year_label_pos], ticktext=year_labels,
                ticks='outside', ticklen=1, tickcolor='rgba(0,0,0,0)', tickfont=tickfont, automargin=False),
    xaxis4=dict(overlaying='x2', anchor='y2', side='top', range=[day0, day1], showgrid=False, zeroline=False,
                showline=True, linecolor=AXC, linewidth=2, tickvals=day_ticks, ticktext=day_labels,
                ticks='inside', ticklen=14, automargin=False,
                tickwidth=1.5, tickcolor=AXC, tickfont=tickfont, ticklabelstandoff=2,
                minor=dict(dtick=500, tick0=0, ticks='inside', ticklen=6, tickcolor=AXC, tickwidth=1.5)),
    xaxis5=dict(overlaying='x', anchor='y', side='top', range=[day0, day1], showgrid=False, zeroline=False,
                showline=True, linecolor=AXC, linewidth=2, tickvals=day_ticks, ticks='inside', ticklen=12,
                tickwidth=1.5, tickcolor=AXC, showticklabels=False, automargin=False,
                minor=dict(dtick=500, tick0=0, ticks='inside', ticklen=6, tickcolor=AXC, tickwidth=1.5)),
    yaxis2=dict(domain=top_dom, anchor='x2', range=[1356.8, 1375.26], tickvals=[1360, 1365, 1370, 1375],
                showgrid=False, zeroline=False, showline=True, linecolor=AXC, linewidth=2, mirror='allticks',
                ticks='inside', ticklen=20, tickwidth=1.5, tickcolor=AXC, tickfont=tickfont, automargin=False,
                minor=dict(dtick=1, ticks='inside', ticklen=10, tickcolor=AXC, tickwidth=1.5)),
    yaxis=dict(domain=bot_dom, anchor='x', range=[1362.68, 1368.94], tickvals=[1364, 1366, 1368],
               showgrid=False, zeroline=False, showline=True, linecolor=AXC, linewidth=2, mirror='allticks',
               ticks='inside', ticklen=20, tickwidth=1.5, tickcolor=AXC, tickfont=tickfont, automargin=False,
               minor=dict(dtick=1, ticks='inside', ticklen=12, tickcolor=AXC, tickwidth=1.5)),
)

# white page area inside the light-blue border
fig.add_shape(type='rect', xref='paper', yref='paper', layer='below', line=dict(width=0), fillcolor='white',
              x0=(10 - ml) / pw, x1=(W + 5 - ml) / pw, y0=(985 - H - 5) / ph, y1=(985 - 7) / ph)


def note(text, x, y, color, size=30, xa='x2', ya='y2', xanchor='center', angle=0):
    fig.add_annotation(text=text, x=x, y=y, xref=xa, yref=ya, showarrow=False, xanchor=xanchor,
                       yanchor='middle', textangle=angle, font=dict(family=FONT, size=size, color=color))


note('HF', 1985.53, 1373.31, GREEN, 29)
note('ACRIM I', 1986.52, 1368.44, RED)
note('ERBS', 1987.82, 1363.84, CYAN)
note('a) Original Data', 2000.42, 1372.93, '#1a1a1a', 34)
note('DIARAD/VIRGO 0810', 1999.61, 1369.7, GREEN, 29)
note('ACRIM III vers: 0709', 1998.05, 1368.85, RED, 29)
note('VIRGO 6_001_0810', 1996.62, 1368.0, BLUE, 29)
note('ACRIM II vers: 101001', 1997.01, 1362.33, MAG)
note('TIM/SORCE vers: 07_0804', 1998.7, 1359.82, GREEN)
note('0.3%', 1982.99, 1360.78, '#333333', 30, xanchor='left')
note('b) PMOD Composite', 1999.58, 1363.67, '#1a1a1a', 34, xa='x', ya='y')

# axis titles (placed in pixel-derived paper coordinates)
note('Days (Epoch Jan 0, 1980)', (757 - ml) / pw, (985 - 28) / ph, TXT, 38, xa='paper', ya='paper')
note('Year', (757 - ml) / pw, (985 - 1062) / ph, TXT, 38, xa='paper', ya='paper')
note('Solar Irradiance (Wm<sup>-2</sup>)', (30 - ml) / pw, (985 - 755) / ph, TXT, 38,
     xa='paper', ya='paper', angle=-90)

fig.write_html('out.html', config={'displayModeBar': False},
               post_script="document.body.style.margin='0px';"
                           "document.body.style.background='#d3ecfb';")
